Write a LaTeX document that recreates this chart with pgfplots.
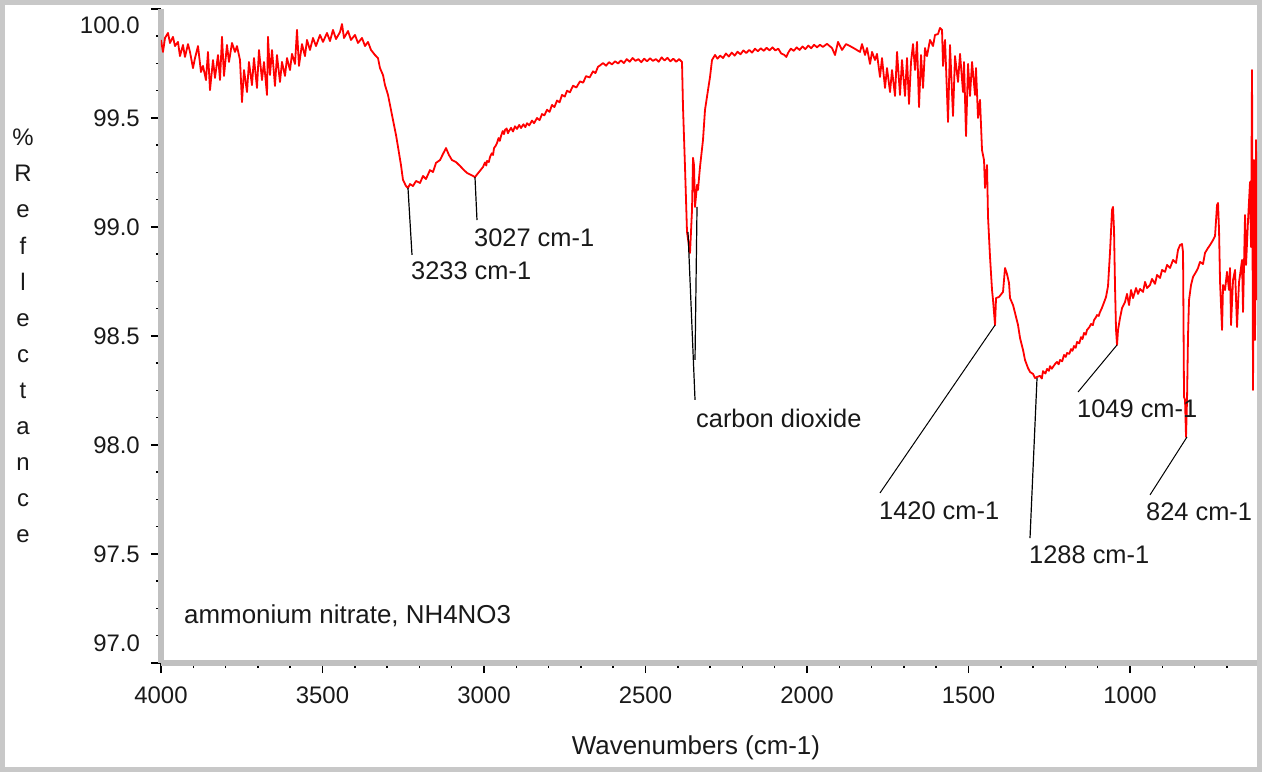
\documentclass[border=0pt]{standalone}
\usepackage{pgfplots}
\pgfplotsset{compat=1.18}
\usepackage{fontspec}
\setmainfont{Liberation Sans}
\definecolor{framegray}{RGB}{200,200,200}
\definecolor{axisgray}{RGB}{192,192,192}
\definecolor{txt}{RGB}{25,25,25}
\newcommand{\lbl}{\fontsize{24}{28}\selectfont}
\newcommand{\ann}{\fontsize{25.5}{30}\selectfont}

\begin{document}
\begin{tikzpicture}[x=1bp,y=1bp]
\path[use as bounding box] (0bp,0bp) rectangle (1262bp,772bp);
\fill[white] (0bp,0bp) rectangle (1262bp,772bp);
\draw[framegray, line width=5bp] (2.5bp,2.5bp) rectangle (1259.5bp,769.5bp);

\begin{axis}[
  at={(161bp,109bp)}, anchor=south west,
  scale only axis, width=1096bp, height=654bp,
  x dir=reverse,
  xmin=606.8, xmax=4000, ymin=97, ymax=100,
  axis lines=left,
  axis line style={-, draw=axisgray, line width=6bp},
  xtick={1000,1500,2000,2500,3000,3500,4000},
  xticklabels={1000,1500,2000,2500,3000,3500,4000},
  minor xtick={700,800,...,3900},
  ytick={97,97.5,98,98.5,99,99.5,100},
  yticklabels={,97.5,98.0,98.5,99.0,99.5,},
  minor y tick num=3,
  tick align=outside,
  major tick length=10bp, minor tick length=5bp,
  tick style={black, line width=1.5bp},
  ticklabel style={font=\lbl, text=txt, inner sep=0pt},
  xticklabel style={yshift=-14bp},
  yticklabel style={xshift=-11bp},
]
\addplot[red, line width=1.8bp, line join=round] coordinates {
(4000.0,99.858) (3993.8,99.803) (3987.6,99.867) (3978.3,99.890) (3972.1,99.844)
(3962.8,99.872) (3956.7,99.830) (3947.4,99.849) (3941.2,99.784) (3931.9,99.835)
(3925.7,99.780) (3916.4,99.839) (3910.2,99.803) (3900.9,99.729) (3894.7,99.775)
(3885.4,99.830) (3876.2,99.711) (3870.0,99.739) (3860.7,99.674) (3854.5,99.803)
(3848.3,99.628) (3839.0,99.766) (3832.8,99.684) (3823.5,99.789) (3817.3,99.674)
(3811.1,99.872) (3805.0,99.693) (3795.7,99.835) (3789.5,99.757) (3780.2,99.844)
(3770.9,99.803) (3764.7,99.830) (3755.4,99.766) (3749.2,99.573) (3743.0,99.720)
(3733.7,99.619) (3727.6,99.757) (3718.3,99.651) (3712.1,99.775) (3702.8,99.638)
(3696.6,99.812) (3687.3,99.674) (3681.1,99.757) (3671.8,99.606) (3668.7,99.872)
(3662.5,99.697) (3656.3,99.812) (3647.1,99.647) (3640.9,99.789) (3631.6,99.665)
(3625.4,99.757) (3616.1,99.693) (3609.9,99.775) (3600.6,99.720) (3594.4,99.794)
(3585.1,99.748) (3578.9,99.904) (3572.8,99.739) (3563.5,99.839) (3554.2,99.784)
(3548.0,99.858) (3538.7,99.812) (3529.4,99.867) (3520.1,99.830) (3507.7,99.881)
(3498.4,99.849) (3486.1,99.890) (3476.8,99.853) (3467.5,99.904) (3458.2,99.862)
(3445.8,99.894) (3439.6,99.931) (3433.4,99.867) (3421.0,99.899) (3411.8,99.858)
(3399.4,99.881) (3390.1,99.844) (3377.7,99.867) (3368.4,99.830) (3359.1,99.849)
(3349.8,99.812) (3337.5,99.789) (3328.2,99.775) (3322.0,99.729) (3312.7,99.697)
(3306.5,99.651) (3297.2,99.606) (3291.0,99.560) (3281.7,99.491) (3272.4,99.422)
(3266.2,99.367) (3257.0,99.284) (3250.8,99.216) (3241.5,99.188) (3235.3,99.179)
(3229.1,99.197) (3219.8,99.188) (3210.5,99.211) (3198.1,99.202) (3188.8,99.234)
(3179.6,99.220) (3167.2,99.261) (3157.9,99.252) (3148.6,99.294) (3136.2,99.307)
(3126.9,99.335) (3117.6,99.362) (3108.4,99.330) (3099.1,99.307) (3086.7,99.298)
(3074.3,99.280) (3061.9,99.261) (3052.6,99.248) (3040.2,99.239) (3027.9,99.229)
(3015.5,99.252) (3003.1,99.275) (2997,99.296) (2993,99.282) (2990.7,99.303)
(2985,99.298) (2981.4,99.321) (2976,99.338) (2972,99.330) (2969.0,99.362)
(2964,99.372) (2959.7,99.385) (2955,99.408) (2951,99.395) (2947.4,99.417)
(2942,99.440) (2938,99.426) (2935.0,99.445) (2930,99.452) (2926,99.430)
(2922.6,99.440) (2916,99.455) (2910.2,99.438) (2904,99.462) (2897.8,99.450)
(2891,99.468) (2885.4,99.454) (2878,99.471) (2872,99.458) (2866.9,99.476)
(2860,99.466) (2851.4,99.488) (2845,99.476) (2835.9,99.500) (2828,99.490)
(2820.4,99.518) (2813,99.512) (2804.9,99.538) (2797,99.528) (2789.5,99.560)
(2782,99.550) (2774.0,99.580) (2766,99.572) (2758.5,99.606) (2750,99.598)
(2743.0,99.625) (2734,99.618) (2724.4,99.648) (2714,99.640) (2702.8,99.668)
(2693,99.662) (2684.2,99.692) (2673,99.686) (2662.5,99.714) (2655,99.706)
(2647.0,99.735) (2640,99.742) (2631.6,99.752) (2622,99.740) (2613,99.756)
(2604,99.746) (2594,99.760) (2585,99.750) (2576,99.764) (2567,99.752)
(2558,99.770) (2549,99.758) (2540,99.775) (2531,99.762) (2522,99.770)
(2513,99.756) (2504,99.772) (2495,99.760) (2486,99.774) (2477,99.762)
(2468,99.770) (2459,99.758) (2450,99.778) (2441,99.764) (2432,99.776)
(2423,99.760) (2414,99.772) (2405,99.758) (2396,99.770) (2387.0,99.757)
(2383.9,99.550) (2377.7,99.275) (2371.5,98.977) (2362.2,98.881) (2356.0,99.078)
(2352.9,99.317) (2349.8,99.284) (2346.7,99.092) (2340.5,99.193) (2337.5,99.170)
(2331.3,99.275) (2322.0,99.399) (2315.8,99.537) (2306.5,99.628) (2300.3,99.688)
(2294.1,99.766) (2284.8,99.789) (2277,99.772) (2269,99.786) (2260,99.775)
(2251,99.796) (2242,99.782) (2233,99.800) (2224,99.786) (2215,99.804)
(2206,99.792) (2197,99.810) (2188,99.798) (2179,99.812) (2170,99.800)
(2161,99.818) (2152,99.806) (2143,99.820) (2134,99.808) (2125,99.822)
(2116,99.810) (2107,99.824) (2098,99.810) (2089,99.818) (2080,99.796)
(2071,99.790) (2064,99.780) (2058,99.800) (2050,99.818) (2041,99.808)
(2032,99.824) (2023,99.812) (2014,99.828) (2005,99.816) (1996,99.832)
(1987,99.820) (1978,99.836) (1969,99.824) (1960,99.836) (1951,99.826)
(1938.1,99.840) (1922.6,99.821) (1913.3,99.789) (1904.0,99.849) (1891.6,99.812)
(1879.2,99.839) (1866.9,99.830) (1851.4,99.817) (1835.9,99.803) (1829.7,99.839)
(1820.4,99.789) (1814.2,99.821) (1804.9,99.748) (1798.7,99.803) (1789.5,99.766)
(1783.3,99.794) (1774.0,99.688) (1767.8,99.775) (1758.5,99.638) (1752.3,99.729)
(1743.0,99.619) (1736.8,99.720) (1727.5,99.601) (1721.3,99.803) (1712.1,99.606)
(1705.9,99.766) (1696.6,99.601) (1690.4,99.775) (1684.2,99.564) (1678.0,99.757)
(1671.8,99.839) (1665.6,99.720) (1659.4,99.849) (1653.2,99.550) (1647.0,99.789)
(1640.8,99.638) (1634.7,99.821) (1628.5,99.784) (1619.2,99.858) (1609.9,99.830)
(1603.7,99.881) (1594.4,99.885) (1588.2,99.913) (1582.0,99.904) (1578.9,99.739)
(1572.7,99.858) (1563.4,99.482) (1557.3,99.835) (1548.0,99.509) (1541.8,99.784)
(1532.5,99.665) (1526.3,99.794) (1517.0,99.619) (1513.9,99.757) (1507.7,99.417)
(1501.5,99.748) (1495.3,99.601) (1489.1,99.757) (1479.9,99.606) (1476.8,99.729)
(1470.6,99.500) (1464.4,99.583) (1458.2,99.353) (1452.0,99.307) (1448.9,99.179)
(1442.7,99.284) (1439.6,99.046) (1433.4,98.862) (1427.2,98.711) (1424.1,98.665)
(1417.9,98.550) (1414.8,98.674) (1405.6,98.679) (1393.2,98.702) (1387.0,98.812)
(1380.8,98.784) (1374.6,98.743) (1371.5,98.674) (1362.2,98.642) (1356.0,98.606)
(1346.7,98.550) (1340.5,98.491) (1331.2,98.436) (1325.1,98.390) (1315.8,98.353)
(1309.6,98.335) (1300.3,98.326) (1294.1,98.307) (1287.9,98.312) (1278.6,98.317)
(1273,98.305) (1269.3,98.339) (1262,98.328) (1256.9,98.349) (1251,98.340)
(1247.7,98.362) (1242,98.350) (1238.4,98.358) (1232,98.372) (1226.0,98.381)
(1221,98.370) (1216.7,98.390) (1210,98.384) (1204.3,98.413) (1199,98.404)
(1195.0,98.422) (1188,98.418) (1182.6,98.440) (1178,98.432) (1173.4,98.454)
(1168,98.446) (1164.1,98.473) (1157,98.466) (1151.7,98.495) (1147,98.486)
(1142.4,98.514) (1137,98.506) (1133.1,98.528) (1126,98.540) (1120.7,98.555)
(1115,98.550) (1111.4,98.573) (1106,98.585) (1102.1,98.596) (1097,98.592)
(1092.9,98.610) (1088,98.625) (1083.6,98.642) (1079,98.660) (1074.3,98.679)
(1068.1,98.729) (1061.9,98.885) (1055.7,99.078) (1052.6,99.092) (1049.5,98.986)
(1046.4,98.725) (1043.3,98.528) (1040.2,98.459) (1037.1,98.528) (1030.9,98.583)
(1024.7,98.628) (1015.5,98.656) (1009.3,98.693) (1003.1,98.642) (996.9,98.711)
(990.7,98.674) (981.4,98.720) (975.2,98.693) (969.0,98.716) (959.7,98.702)
(953.5,98.748) (947.3,98.720) (938.1,98.734) (931.9,98.762) (922.6,98.739)
(916.4,98.780) (907.1,98.766) (900.9,98.803) (891.6,98.794) (885.4,98.826)
(876.1,98.812) (866.8,98.849) (857.6,98.835) (851.4,98.895) (845.2,98.917)
(839.0,98.922) (835.9,98.885) (832.8,98.220) (829.7,98.207) (826.6,98.037)
(823.5,98.207) (820.4,98.505) (817.3,98.665) (811.1,98.734) (804.9,98.771)
(795.6,98.794) (789.4,98.812) (783.3,98.840) (774.0,98.830) (767.8,98.881)
(758.5,98.904) (752.3,98.917) (743.0,98.940) (736.8,98.959) (730.6,99.101)
(727.5,99.110) (724.4,98.986) (721.3,98.748) (715.1,98.528) (712.0,98.734)
(705.9,98.711) (699.7,98.794) (693.5,98.711) (690.4,98.812) (687.3,98.550)
(681.1,98.757) (674.9,98.803) (668.7,98.541) (662.5,98.748) (659.4,98.780)
(653.2,98.849) (650.1,98.610) (643.9,99.055) (640.8,98.826) (634.6,99.032)
(628.5,99.206) (625.4,98.908) (622.3,99.720) (619.2,98.252) (616.1,99.307)
(613.0,98.482) (609.9,99.399) (606.8,98.665)
};
% leader lines from the labelled bands to their captions
\draw[black, line width=1.2bp] (3235.3,99.179) -- (3222.9,98.872);
\draw[black, line width=1.2bp] (3027.9,99.229) -- (3021.7,99.032);
\draw[black, line width=1.2bp] (2368.4,98.977) -- (2346.7,98.207);
\draw[black, line width=1.2bp] (2340.5,99.092) -- (2346.7,98.390);
\draw[black, line width=1bp] (1417.9,98.550) -- (1774.0,97.780);
\draw[black, line width=1.2bp] (1287.9,98.307) -- (1309.6,97.573);
\draw[black, line width=1bp] (1040.2,98.459) -- (1161.0,98.243);
\draw[black, line width=1bp] (823.5,98.037) -- (938.1,97.771);
\end{axis}

% end tick labels sit inside the axis range, as in the original
\node[font=\lbl, text=txt, anchor=east, inner sep=0pt] at (140bp,747bp) {100.0};
\node[font=\lbl, text=txt, anchor=east, inner sep=0pt] at (140bp,129bp) {97.0};

\node[font=\fontsize{24}{36.2}\selectfont, text=txt, align=center, inner sep=0pt]
  at (23bp,436bp) {\%\\R\\e\\f\\l\\e\\c\\t\\a\\n\\c\\e};
\node[font=\fontsize{26}{30}\selectfont, text=txt, inner sep=0pt] at (696bp,24bp) {Wavenumbers (cm-1)};

\begin{scope}[every node/.style={font=\ann, text=txt, anchor=west, inner sep=0pt}]
\node at (411bp,501bp) {3233 cm-1};
\node at (474bp,534bp) {3027 cm-1};
\node at (696bp,354bp) {carbon dioxide};
\node at (879bp,261bp) {1420 cm-1};
\node at (1029bp,217bp) {1288 cm-1};
\node at (1077bp,363bp) {1049 cm-1};
\node at (1146bp,260bp) {824 cm-1};
\node[font=\fontsize{26}{30}\selectfont] at (184bp,156bp) {ammonium nitrate, NH4NO3};
\end{scope}
\end{tikzpicture}
\end{document}
